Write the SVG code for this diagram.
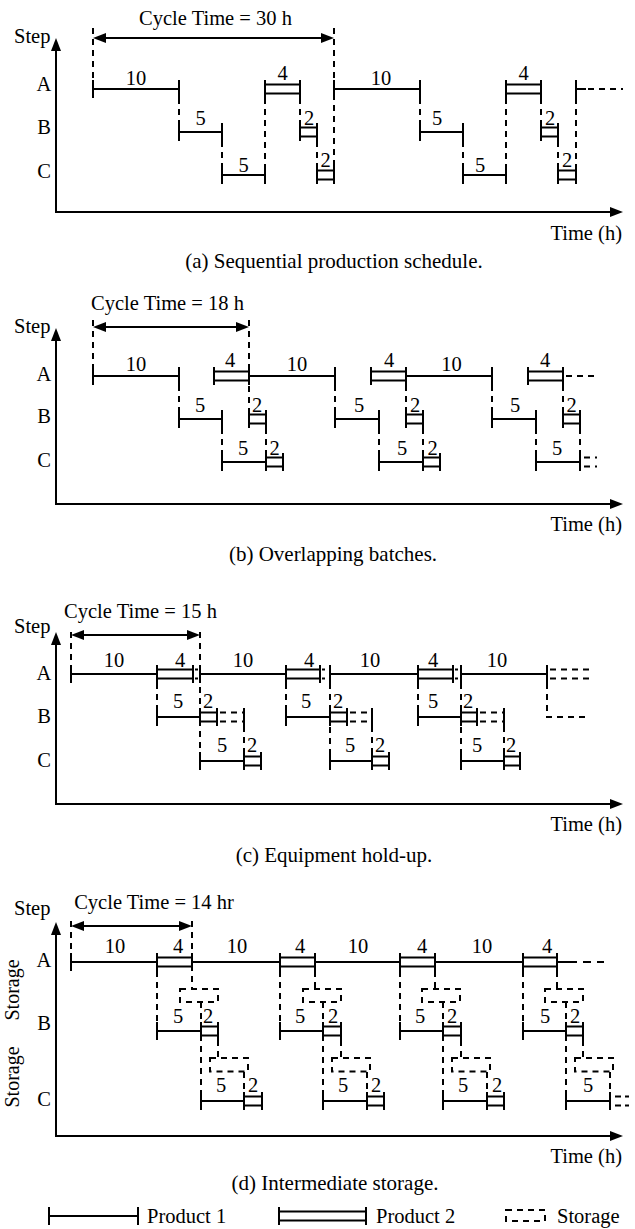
<svg xmlns="http://www.w3.org/2000/svg" width="635" height="1229" viewBox="0 0 635 1229">
<style>
.ln{fill:none;stroke:#000;stroke-width:2}
.dl{fill:none;stroke:#000;stroke-width:2;stroke-dasharray:6 5}
.t{font-family:"Liberation Serif","Times New Roman",serif;font-size:20.5px;fill:#000}
.c{text-anchor:middle}
.e{text-anchor:end}
.cap{font-size:21px}
.rot{font-size:20px}
</style>
<defs>
<marker id="ah" viewBox="0 0 13 10" refX="9" refY="5" markerWidth="13" markerHeight="10" markerUnits="userSpaceOnUse" orient="auto-start-reverse"><path d="M0 0L13 5L0 10Z" fill="#000"/></marker>
</defs>
<rect width="635" height="1229" fill="#fff"/>

<!-- ================= Panel (a) ================= -->
<g id="panel-a">
<g id="a-axes">
<path class="ln" d="M56 42V212H619" marker-start="url(#ah)" marker-end="url(#ah)"/>
<text class="t" x="14" y="43">Step</text>
<text class="t c" x="44" y="91">A</text>
<text class="t c" x="44" y="134">B</text>
<text class="t c" x="44" y="178">C</text>
<text class="t e" x="622" y="240">Time (h)</text>
<text class="t c cap" x="334" y="268">(a) Sequential production schedule.</text>
</g>
<g id="a-cycle">
<path class="ln" d="M97 38H330" marker-start="url(#ah)" marker-end="url(#ah)"/>
<text class="t c" x="215.5" y="25">Cycle Time = 30 h</text>
</g>
<g id="a-A1"><path class="ln" d="M93 80V98M93 89H179M179 80V98"/><text class="t c" x="136" y="85">10</text></g>
<g id="a-B1"><path class="ln" d="M179 123V141M179 132H222M222 123V141"/><text class="t c" x="200.5" y="125">5</text></g>
<g id="a-C1"><path class="ln" d="M222 166V184M222 175H265M265 166V184"/><text class="t c" x="243.5" y="172">5</text></g>
<g id="a-A2"><path class="ln" d="M265 80V98M300 80V98M265 84.5H300M265 93.5H300"/><text class="t c" x="282.5" y="80">4</text></g>
<g id="a-B2"><path class="ln" d="M300 123V141M317 123V141M300 127.5H317M300 136.5H317"/><text class="t c" x="309" y="125">2</text></g>
<g id="a-C2"><path class="ln" d="M317 166V184M334 166V184M317 170.5H334M317 179.5H334"/><text class="t c" x="325.5" y="167">2</text></g>
<g id="a-A3"><path class="ln" d="M334 80V98M334 89H420M420 80V98"/><text class="t c" x="381" y="85">10</text></g>
<g id="a-B3"><path class="ln" d="M420 123V141M420 132H463M463 123V141"/><text class="t c" x="437" y="125">5</text></g>
<g id="a-C3"><path class="ln" d="M463 166V184M463 175H506M506 166V184"/><text class="t c" x="480" y="172">5</text></g>
<g id="a-A4"><path class="ln" d="M506 80V98M541 80V98M506 84.5H541M506 93.5H541"/><text class="t c" x="523.5" y="80">4</text></g>
<g id="a-B4"><path class="ln" d="M541 123V141M558 123V141M541 127.5H558M541 136.5H558"/><text class="t c" x="550" y="125">2</text></g>
<g id="a-C4"><path class="ln" d="M558 166V184M576 166V184M558 170.5H576M558 179.5H576"/><text class="t c" x="567" y="167">2</text></g>
<g id="a-A5"><path class="ln" d="M576 80V98M576 89H586"/><path class="dl" d="M588 89H623"/></g>
<g id="a-connectors">
<path class="dl" d="M93 28V80M179 98V123M222 141V166M265 98V166M300 98V123M317 141V166M334 28V166M420 98V123M463 141V166M506 98V166M541 98V123M558 141V166M576 98V166"/>
</g>
</g>

<!-- ================= Panel (b) ================= -->
<g id="panel-b">
<g id="b-axes">
<path class="ln" d="M56 332V504H619" marker-start="url(#ah)" marker-end="url(#ah)"/>
<text class="t" x="14" y="333">Step</text>
<text class="t c" x="44" y="380.5">A</text>
<text class="t c" x="44" y="423">B</text>
<text class="t c" x="44" y="466.5">C</text>
<text class="t e" x="622" y="531">Time (h)</text>
<text class="t c cap" x="333" y="561">(b) Overlapping batches.</text>
</g>
<g id="b-cycle">
<path class="ln" d="M97 327H245" marker-start="url(#ah)" marker-end="url(#ah)"/>
<text class="t c" x="167.5" y="310">Cycle Time = 18 h</text>
</g>
<g id="b-A1"><path class="ln" d="M93 367V385M93 376H179M179 367V385"/><text class="t c" x="136" y="371">10</text></g>
<g id="b-B1"><path class="ln" d="M179 410V428M179 419H222M222 410V428"/><text class="t c" x="200" y="412">5</text></g>
<g id="b-C1"><path class="ln" d="M222 453V471M222 462H266M266 453V471"/><text class="t c" x="243" y="455">5</text></g>
<g id="b-A2"><path class="ln" d="M214 367V385M249 367V385M214 371.5H249M214 380.5H249"/><text class="t c" x="230" y="367">4</text></g>
<g id="b-B2"><path class="ln" d="M249 410V428M266 410V428M249 414.5H266M249 423.5H266"/><text class="t c" x="257" y="412">2</text></g>
<g id="b-C2"><path class="ln" d="M266 453V471M283 453V471M266 457.5H283M266 466.5H283"/><text class="t c" x="274.5" y="455">2</text></g>
<g id="b-A3"><path class="ln" d="M249 376H335M335 367V385"/><text class="t c" x="297" y="371">10</text></g>
<g id="b-B3"><path class="ln" d="M335 410V428M335 419H379M379 410V428"/><text class="t c" x="359" y="412">5</text></g>
<g id="b-C3"><path class="ln" d="M379 453V471M379 462H423M423 453V471"/><text class="t c" x="402" y="455">5</text></g>
<g id="b-A4"><path class="ln" d="M371 367V385M406 367V385M371 371.5H406M371 380.5H406"/><text class="t c" x="389" y="367">4</text></g>
<g id="b-B4"><path class="ln" d="M406 410V428M423 410V428M406 414.5H423M406 423.5H423"/><text class="t c" x="415" y="412">2</text></g>
<g id="b-C4"><path class="ln" d="M423 453V471M440 453V471M423 457.5H440M423 466.5H440"/><text class="t c" x="432.5" y="455">2</text></g>
<g id="b-A5"><path class="ln" d="M406 376H492M492 367V385"/><text class="t c" x="451.5" y="371">10</text></g>
<g id="b-B5"><path class="ln" d="M492 410V428M492 419H536M536 410V428"/><text class="t c" x="515" y="412">5</text></g>
<g id="b-C5"><path class="ln" d="M536 453V471M536 462H580M580 453V471"/><text class="t c" x="557" y="455">5</text></g>
<g id="b-A6"><path class="ln" d="M528 367V385M563 367V385M528 371.5H563M528 380.5H563"/><text class="t c" x="545" y="367">4</text><path class="dl" d="M566 376H597"/></g>
<g id="b-B6"><path class="ln" d="M563 410V428M580 410V428M563 414.5H580M563 423.5H580"/><text class="t c" x="571.5" y="412">2</text></g>
<g id="b-C6"><path class="dl" d="M584 457.5H597M584 466.5H597"/></g>
<g id="b-connectors">
<path class="dl" d="M93 320V367M179 385V410M222 428V453M249 320V410M266 428V453M335 385V410M379 428V453M406 385V410M423 428V453M492 385V410M536 428V453M563 385V410M580 428V453"/>
</g>
</g>

<!-- ================= Panel (c) ================= -->
<g id="panel-c">
<g id="c-axes">
<path class="ln" d="M56 636V804H619" marker-start="url(#ah)" marker-end="url(#ah)"/>
<text class="t" x="14" y="633">Step</text>
<text class="t c" x="44" y="680">A</text>
<text class="t c" x="44" y="723">B</text>
<text class="t c" x="44" y="767">C</text>
<text class="t e" x="622" y="831">Time (h)</text>
<text class="t c cap" x="334" y="862">(c) Equipment hold-up.</text>
</g>
<g id="c-cycle">
<path class="ln" d="M75 635H196" marker-start="url(#ah)" marker-end="url(#ah)"/>
<text class="t c" x="140.5" y="618">Cycle Time = 15 h</text>
</g>
<g id="c-A1"><path class="ln" d="M71 665V683M71 674H157M157 665V683"/><text class="t c" x="114" y="667">10</text></g>
<g id="c-B1"><path class="ln" d="M157 708V726M157 717H200M200 708V726"/><text class="t c" x="178" y="708">5</text></g>
<g id="c-C1"><path class="ln" d="M200 752V770M200 761H244M244 752V770"/><text class="t c" x="222" y="752">5</text></g>
<g id="c-A2"><path class="ln" d="M157 665V683M193 665V683M157 669.5H193M157 678.5H193M195 669.5H198M195 678.5H198"/><text class="t c" x="180" y="667">4</text></g>
<g id="c-B2"><path class="ln" d="M200 708V726M217 708V726M200 712.5H217M200 721.5H217M244 708V726"/><path class="dl" d="M220 712.5H244M220 721.5H244"/><text class="t c" x="208" y="708">2</text></g>
<g id="c-C2"><path class="ln" d="M244 752V770M261 752V770M244 756.5H261M244 765.5H261"/><text class="t c" x="252" y="752">2</text></g>
<g id="c-A3"><path class="ln" d="M200 665V683M200 674H286M286 665V683"/><text class="t c" x="243" y="667">10</text></g>
<g id="c-B3"><path class="ln" d="M286 708V726M286 717H330M330 708V726"/><text class="t c" x="306" y="708">5</text></g>
<g id="c-C3"><path class="ln" d="M330 752V770M330 761H372M372 752V770"/><text class="t c" x="350" y="752">5</text></g>
<g id="c-A4"><path class="ln" d="M286 665V683M320 665V683M286 669.5H320M286 678.5H320M322 669.5H325M322 678.5H325"/><text class="t c" x="309" y="667">4</text></g>
<g id="c-B4"><path class="ln" d="M330 708V726M347 708V726M330 712.5H347M330 721.5H347M372 708V726"/><path class="dl" d="M350 712.5H372M350 721.5H372"/><text class="t c" x="338" y="708">2</text></g>
<g id="c-C4"><path class="ln" d="M372 752V770M389 752V770M372 756.5H389M372 765.5H389"/><text class="t c" x="380" y="752">2</text></g>
<g id="c-A5"><path class="ln" d="M330 665V683M330 674H418M418 665V683"/><text class="t c" x="370" y="667">10</text></g>
<g id="c-B5"><path class="ln" d="M418 708V726M418 717H461M461 708V726"/><text class="t c" x="433" y="708">5</text></g>
<g id="c-C5"><path class="ln" d="M461 752V770M461 761H504M504 752V770"/><text class="t c" x="477" y="752">5</text></g>
<g id="c-A6"><path class="ln" d="M418 665V683M453 665V683M418 669.5H453M418 678.5H453M455 669.5H458M455 678.5H458"/><text class="t c" x="433" y="667">4</text></g>
<g id="c-B6"><path class="ln" d="M461 708V726M477 708V726M461 712.5H477M461 721.5H477M504 708V726"/><path class="dl" d="M480 712.5H504M480 721.5H504"/><text class="t c" x="468" y="708">2</text></g>
<g id="c-C6"><path class="ln" d="M504 752V770M520 752V770M504 756.5H520M504 765.5H520"/><text class="t c" x="511" y="752">2</text></g>
<g id="c-A7"><path class="ln" d="M461 665V683M461 674H547M547 665V683"/><text class="t c" x="497" y="667">10</text></g>
<g id="c-next"><path class="dl" d="M550 669.5H590M550 678.5H590M547 683V717H590"/></g>
<g id="c-connectors">
<path class="dl" d="M71 632V665M157 683V708M200 632V752M244 726V752M286 683V708M330 683V752M372 726V752M418 683V708M461 683V752M504 726V752"/>
</g>
</g>

<!-- ================= Panel (d) ================= -->
<g id="panel-d">
<g id="d-axes">
<path class="ln" d="M56 926V1136H619" marker-start="url(#ah)" marker-end="url(#ah)"/>
<text class="t" x="14" y="915">Step</text>
<text class="t c" x="44" y="966.5">A</text>
<text class="t c" x="44" y="1030">B</text>
<text class="t c" x="44" y="1106">C</text>
<text class="t c rot" transform="translate(18.5 990) rotate(-90)">Storage</text>
<text class="t c rot" transform="translate(18.5 1077) rotate(-90)">Storage</text>
<text class="t e" x="622" y="1163">Time (h)</text>
<text class="t c cap" x="335" y="1190">(d) Intermediate storage.</text>
</g>
<g id="d-cycle">
<path class="ln" d="M75 926H188" marker-start="url(#ah)" marker-end="url(#ah)"/>
<text class="t c" x="154" y="909">Cycle Time = 14 hr</text>
</g>
<g id="d-A1"><path class="ln" d="M71 953V971M71 962H157M157 953V971"/><text class="t c" x="115" y="953">10</text></g>
<g id="d-B1"><path class="ln" d="M157 1022V1040M157 1031H201M201 1022V1040"/><text class="t c" x="178" y="1023">5</text></g>
<g id="d-C1"><path class="ln" d="M201 1092V1110M201 1101H244M244 1092V1110"/><text class="t c" x="221" y="1092">5</text></g>
<g id="d-A2"><path class="ln" d="M157 953V971M192 953V971M157 957.5H192M157 966.5H192"/><text class="t c" x="178" y="953">4</text></g>
<g id="d-B2"><path class="ln" d="M201 1022V1040M218 1022V1040M201 1026.5H218M201 1035.5H218"/><text class="t c" x="208" y="1023">2</text></g>
<g id="d-C2"><path class="ln" d="M244 1092V1110M262 1092V1110M244 1096.5H262M244 1105.5H262"/><text class="t c" x="253" y="1092">2</text></g>
<g id="d-SB1"><rect class="dl" x="180" y="989" width="38" height="13"/></g>
<g id="d-SC1"><rect class="dl" x="210" y="1058" width="38" height="13.5"/></g>
<g id="d-A3"><path class="ln" d="M192 962H280M280 953V971"/><text class="t c" x="237" y="953">10</text></g>
<g id="d-B3"><path class="ln" d="M280 1022V1040M280 1031H323M323 1022V1040"/><text class="t c" x="300" y="1023">5</text></g>
<g id="d-C3"><path class="ln" d="M323 1092V1110M323 1101H367M367 1092V1110"/><text class="t c" x="343" y="1092">5</text></g>
<g id="d-A4"><path class="ln" d="M280 953V971M315 953V971M280 957.5H315M280 966.5H315"/><text class="t c" x="300" y="953">4</text></g>
<g id="d-B4"><path class="ln" d="M323 1022V1040M341 1022V1040M323 1026.5H341M323 1035.5H341"/><text class="t c" x="333" y="1023">2</text></g>
<g id="d-C4"><path class="ln" d="M367 1092V1110M384 1092V1110M367 1096.5H384M367 1105.5H384"/><text class="t c" x="376" y="1092">2</text></g>
<g id="d-SB2"><rect class="dl" x="303" y="989" width="38" height="13"/></g>
<g id="d-SC2"><rect class="dl" x="332" y="1058" width="38" height="13.5"/></g>
<g id="d-A5"><path class="ln" d="M315 962H400M400 953V971"/><text class="t c" x="358" y="953">10</text></g>
<g id="d-B5"><path class="ln" d="M400 1022V1040M400 1031H443M443 1022V1040"/><text class="t c" x="420" y="1023">5</text></g>
<g id="d-C5"><path class="ln" d="M443 1092V1110M443 1101H487M487 1092V1110"/><text class="t c" x="463" y="1092">5</text></g>
<g id="d-A6"><path class="ln" d="M400 953V971M435 953V971M400 957.5H435M400 966.5H435"/><text class="t c" x="422" y="953">4</text></g>
<g id="d-B6"><path class="ln" d="M443 1022V1040M461 1022V1040M443 1026.5H461M443 1035.5H461"/><text class="t c" x="452" y="1023">2</text></g>
<g id="d-C6"><path class="ln" d="M487 1092V1110M504 1092V1110M487 1096.5H504M487 1105.5H504"/><text class="t c" x="497" y="1092">2</text></g>
<g id="d-SB3"><rect class="dl" x="422" y="989" width="38" height="13"/></g>
<g id="d-SC3"><rect class="dl" x="452" y="1058" width="38" height="13.5"/></g>
<g id="d-A7"><path class="ln" d="M435 962H523M523 953V971"/><text class="t c" x="482" y="953">10</text></g>
<g id="d-B7"><path class="ln" d="M523 1022V1040M523 1031H566M566 1022V1040"/><text class="t c" x="545" y="1023">5</text></g>
<g id="d-C7"><path class="ln" d="M566 1092V1110M566 1101H610M610 1092V1110"/><text class="t c" x="588" y="1092">5</text></g>
<g id="d-A8"><path class="ln" d="M523 953V971M557 953V971M523 957.5H557M523 966.5H557M557 962H577"/><text class="t c" x="547" y="953">4</text><path class="dl" d="M583 962H604" style="stroke-dasharray:8 6"/></g>
<g id="d-B8"><path class="ln" d="M566 1022V1040M583 1022V1040M566 1026.5H583M566 1035.5H583"/><text class="t c" x="575" y="1023">2</text></g>
<g id="d-SB4"><rect class="dl" x="545" y="989" width="38" height="13"/></g>
<g id="d-SC4"><rect class="dl" x="575" y="1058" width="38" height="13.5"/></g>
<g id="d-C8"><path class="dl" d="M615 1096.5H629M615 1105.5H629" style="stroke-dasharray:6 4"/></g>
<g id="d-connectors">
<path class="dl" d="M71 921V953M157 971V1022M192 921V989M201 1002V1092M218 1040V1058M244 1072V1092M280 971V1022M315 971V989M323 1002V1092M341 1040V1058M367 1072V1092M400 971V1022M435 971V989M443 1002V1092M461 1040V1058M487 1072V1092M523 971V1022M557 971V989M566 1002V1092M583 1040V1058M610 1072V1092"/>
</g>
</g>

<!-- ================= Legend ================= -->
<g id="legend">
<g id="leg-p1"><path class="ln" d="M49 1207V1225M49 1216H138M138 1207V1225"/><text class="t" x="147" y="1223">Product 1</text></g>
<g id="leg-p2"><path class="ln" d="M279 1207V1225M366 1207V1225M279 1211.5H366M279 1220.5H366"/><text class="t" x="376" y="1223">Product 2</text></g>
<g id="leg-st"><rect class="dl" x="506" y="1210" width="39" height="11"/><text class="t" x="557" y="1223">Storage</text></g>
</g>
</svg>
